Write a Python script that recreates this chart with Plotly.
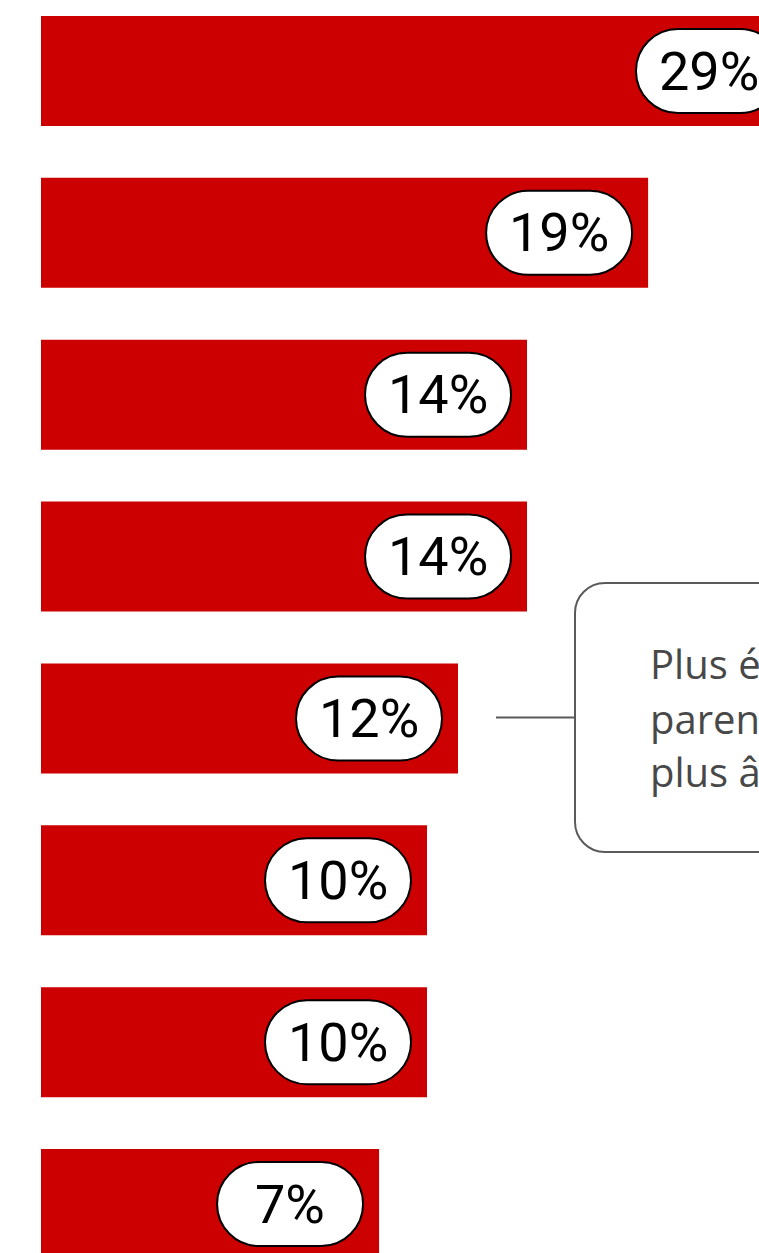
import plotly.graph_objects as go

# ---- data ----
labels = ["29%", "19%", "14%", "14%", "12%", "10%", "10%", "7%"]
bar_lengths = [23.69, 19.0, 15.21, 15.21, 13.05, 12.08, 12.08, 10.58]
callout_lines = ["Plus élevé chez les", "parents d’enfants", "plus âgés"]

# ---- layout constants ----
W, H = 759, 1253
ML = 41
PLOT_W = W - ML
X_MAX = 22.47
PX_PER_UNIT = PLOT_W / X_MAX
PITCH = 161.86
Y_TOP = -71 / PITCH
Y_BOT = Y_TOP + H / PITCH
BAR_COLOR = "#CC0000"
GREY = "#5a5a5a"

idx = list(range(len(labels)))

fig = go.Figure(go.Bar(
    x=bar_lengths, y=idx, orientation="h",
    marker=dict(color=BAR_COLOR, line=dict(width=0)),
    width=110 / PITCH, hoverinfo="skip",
))

# pill shapes (stadium) anchored at bar end, in pixel offsets
k = 0.5523
R = 42
right, left = -16, -162
a, b = left + R, right - R


def stadium():
    return (
        f"M {a},{-R} L {b},{-R} "
        f"C {b + k*R},{-R} {right},{-k*R} {right},0 "
        f"C {right},{k*R} {b + k*R},{R} {b},{R} "
        f"L {a},{R} "
        f"C {a - k*R},{R} {left},{k*R} {left},0 "
        f"C {left},{-k*R} {a - k*R},{-R} {a},{-R} Z"
    )


shapes = []
annotations = []
center_off = (left + right) / 2
for i, (v, t) in enumerate(zip(bar_lengths, labels)):
    shapes.append(dict(
        type="path", xref="x", yref="y", xsizemode="pixel", ysizemode="pixel",
        xanchor=v, yanchor=i, path=stadium(),
        fillcolor="white", line=dict(color="black", width=2), layer="above",
    ))
    annotations.append(dict(
        x=v + center_off / PX_PER_UNIT, y=i, xref="x", yref="y",
        text=t, showarrow=False, xanchor="center", yanchor="middle",
        font=dict(family="Roboto", size=54, color="black", weight=450),
    ))


# helpers: reference-picture pixel -> paper coordinates
def px(xp):
    return (xp - ML) / PLOT_W


def py(yp):
    return 1 - yp / H


bx0, bx1, by0, by1, rr = 575, 980, 583, 852, 30
box_path = (
    f"M {px(bx0 + rr)},{py(by0)} L {px(bx1 - rr)},{py(by0)} "
    f"C {px(bx1 - rr + k*rr)},{py(by0)} {px(bx1)},{py(by0 + rr - k*rr)} {px(bx1)},{py(by0 + rr)} "
    f"L {px(bx1)},{py(by1 - rr)} "
    f"C {px(bx1)},{py(by1 - rr + k*rr)} {px(bx1 - rr + k*rr)},{py(by1)} {px(bx1 - rr)},{py(by1)} "
    f"L {px(bx0 + rr)},{py(by1)} "
    f"C {px(bx0 + rr - k*rr)},{py(by1)} {px(bx0)},{py(by1 - rr + k*rr)} {px(bx0)},{py(by1 - rr)} "
    f"L {px(bx0)},{py(by0 + rr)} "
    f"C {px(bx0)},{py(by0 + rr - k*rr)} {px(bx0 + rr - k*rr)},{py(by0)} {px(bx0 + rr)},{py(by0)} Z"
)
shapes.append(dict(type="path", xref="paper", yref="paper", path=box_path,
                   fillcolor="rgba(0,0,0,0)", line=dict(color=GREY, width=2)))
shapes.append(dict(type="line", xref="paper", yref="paper",
                   x0=px(496), x1=px(bx0), y0=py(717.5), y1=py(717.5),
                   line=dict(color=GREY, width=2)))

CALLOUT_FS = 40
baselines = [677, 732, 785]
for line, base in zip(callout_lines, baselines):
    annotations.append(dict(
        x=px(649), y=py(base - 0.35 * CALLOUT_FS), xref="paper", yref="paper",
        text=line, showarrow=False, xanchor="left", yanchor="middle",
        align="left", borderpad=0,
        font=dict(family="Open Sans", size=CALLOUT_FS, color="#484848"),
    ))

fig.update_layout(
    width=W, height=H,
    margin=dict(l=ML, r=0, t=0, b=0, pad=0),
    paper_bgcolor="white", plot_bgcolor="white",
    showlegend=False,
    xaxis=dict(range=[0, X_MAX], visible=False, fixedrange=True),
    yaxis=dict(range=[Y_BOT, Y_TOP], visible=False, fixedrange=True),
    shapes=shapes, annotations=annotations,
)

fig.write_html(
    "out.html",
    config={"displayModeBar": False},
    post_script=(
        "document.body.style.margin='0';"
        "document.documentElement.style.overflow='hidden';"
        "document.body.style.overflow='hidden';"
    ),
)
